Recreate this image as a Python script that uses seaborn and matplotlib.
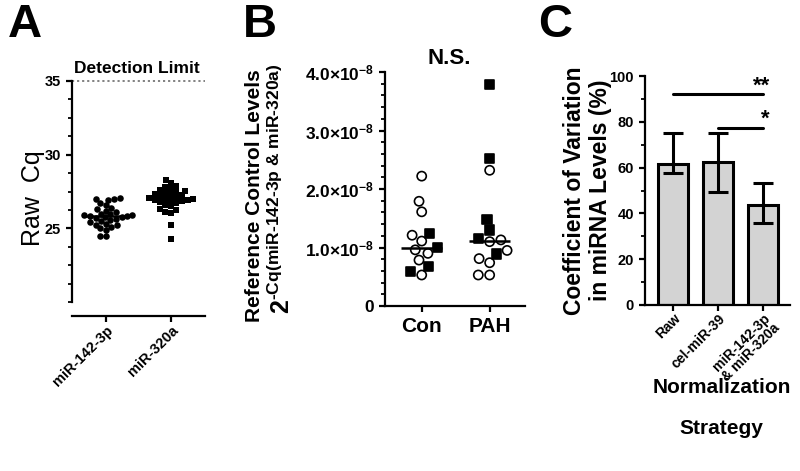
import matplotlib
matplotlib.use("Agg")
import matplotlib.pyplot as plt
from matplotlib.markers import MarkerStyle
from matplotlib.ticker import AutoMinorLocator, FuncFormatter
import numpy as np
import pandas as pd
import seaborn as sns

# panel A: raw Cq of the two reference miRNAs
mir_names = ["miR-142-3p", "miR-320a"]
cq_mir142 = [27.05, 27.0, 27.0, 26.95, 26.75, 26.6, 26.4, 26.3, 26.2, 26.1, 26.0,
             25.95, 25.9, 25.9, 25.85, 25.85, 25.8, 25.75, 25.7, 25.6, 25.55, 25.5,
             25.4, 25.3, 25.25, 25.2, 25.1, 25.0, 24.9, 24.5, 24.45]
cq_mir320 = [28.25, 28.1, 27.9, 27.8, 27.7, 27.6, 27.55, 27.5, 27.4, 27.35, 27.3,
             27.25, 27.2, 27.1, 27.05, 27.0, 27.0, 26.95, 26.9, 26.9, 26.85, 26.8,
             26.7, 26.6, 26.5, 26.3, 26.25, 26.1, 26.05, 25.2, 24.3]
detection_limit = 35

# panel B: reference control levels (x 1e-8)
groups = ["Con", "PAH"]
con_open = [2.22, 1.79, 1.61, 1.21, 1.11, 0.96, 0.90, 0.785, 0.53]
con_filled = [1.24, 0.995, 0.68, 0.585]
pah_open = [2.32, 1.13, 1.10, 0.95, 0.81, 0.74, 0.53, 0.53]
pah_filled = [3.79, 2.52, 1.48, 1.30, 1.15, 0.89]

# panel C: coefficient of variation
strategies = ["Raw", "cel-miR-39", "miR-142-3p\n& miR-320a"]
cv_mean = [61.4, 62.6, 43.7]
cv_low = [57.5, 49.5, 35.7]
cv_high = [75.0, 75.0, 53.1]
sig_pairs = [(0, 2), (1, 2)]
sig_labels = ["**", "*"]
sig_heights = [92, 77.5]

sns.set_theme(style="ticks")
plt.rcParams["font.family"] = ["Liberation Sans", "DejaVu Sans"]
plt.rcParams.update({
    "font.weight": "bold",
    "mathtext.fontset": "custom",
    "mathtext.rm": "Liberation Sans:bold",
    "mathtext.bf": "Liberation Sans:bold",
    "mathtext.it": "Liberation Sans:italic:bold",
    "mathtext.default": "rm",
    "axes.linewidth": 1.6,
    "axes.edgecolor": "black",
    "xtick.major.width": 1.6,
    "ytick.major.width": 1.6,
    "ytick.minor.width": 1.3,
    "xtick.major.size": 4.5,
    "ytick.major.size": 4.5,
    "ytick.minor.size": 3,
    "xtick.color": "black",
    "ytick.color": "black",
    "text.color": "black",
    "axes.labelcolor": "black",
})


def px_box(left, top, right, bottom, w=800, h=471):
    return [left / w, 1 - bottom / h, (right - left) / w, (bottom - top) / h]


def marker_path(code, scale=1.0):
    m = MarkerStyle(code)
    return m.get_path().transformed(m.get_transform().scale(scale))


fig = plt.figure(figsize=(8, 4.71), dpi=100)

# ---------------- A ----------------
ax_a = fig.add_axes(px_box(72, 81, 205, 302))
df_a = pd.DataFrame({
    "miRNA": [mir_names[0]] * len(cq_mir142) + [mir_names[1]] * len(cq_mir320),
    "Cq": cq_mir142 + cq_mir320,
})
# swarm laid out with slightly smaller markers so neighbours overlap a little
sns.swarmplot(data=df_a, x="miRNA", y="Cq", order=mir_names, color="black",
              size=4.1, ax=ax_a)
ax_a.collections[0].set_paths([marker_path("o", 1.15)])
ax_a.collections[1].set_paths([marker_path("s", 1.05)])
for i, name in enumerate(mir_names):
    med = df_a.loc[df_a["miRNA"] == name, "Cq"].median()
    ax_a.hlines(med, i - 0.36, i + 0.36, color="black", lw=1.8)
ax_a.axhline(detection_limit, color="#777777", lw=1.3, ls=(0, (1.2, 1.6)), clip_on=False)
ax_a.text(0.48, detection_limit + 0.35, "Detection Limit", ha="center", va="bottom",
          fontsize=12.5, fontweight="bold")
sns.despine(ax=ax_a)
ax_a.spines["bottom"].set_position(("outward", 10))
ax_a.set_xlim(-0.52, 1.52)
ax_a.set_ylim(20, 35)
ax_a.set_yticks([25, 30, 35])
ax_a.yaxis.set_minor_locator(AutoMinorLocator(4))
ax_a.tick_params(axis="y", labelsize=10.5)
ax_a.tick_params(axis="x", pad=1)
ax_a.set_xticks(range(len(mir_names)))
ax_a.set_xticklabels(mir_names, rotation=45, ha="right", rotation_mode="anchor",
                     fontsize=10.5)
ax_a.set_xlabel("")
ax_a.set_ylabel("Raw  Cq", fontsize=18, fontweight="normal")
ax_a.yaxis.set_label_coords(-0.2, 0.47)

# ---------------- B ----------------
ax_b = fig.add_axes(px_box(385, 72, 525, 306))
levels, grp_col, filled = [], [], []
for grp, opens, fills in [(groups[0], con_open, con_filled), (groups[1], pah_open, pah_filled)]:
    for v in opens:
        levels.append(v * 1e-8); grp_col.append(grp); filled.append(False)
    for v in fills:
        levels.append(v * 1e-8); grp_col.append(grp); filled.append(True)
df_b = pd.DataFrame({"group": grp_col, "level": levels, "filled": filled})
sns.swarmplot(data=df_b, x="group", y="level", order=groups, color="black", size=6.6,
              linewidth=1.2, edgecolor="black", ax=ax_b)
for coll, grp in zip(ax_b.collections, groups):
    flags = df_b.loc[df_b["group"] == grp, "filled"].tolist()
    coll.set_paths([marker_path("s") if f else marker_path("o") for f in flags])
    coll.set_facecolors(["black" if f else "white" for f in flags])
    coll.set_edgecolors("black")
for i, grp in enumerate(groups):
    med = df_b.loc[df_b["group"] == grp, "level"].median()
    ax_b.hlines(med, i - 0.3, i + 0.3, color="black", lw=1.8, zorder=5)
ax_b.set_xlim(-0.54, 1.52)
ax_b.set_ylim(0, 4e-8)
ax_b.set_yticks([0, 1e-8, 2e-8, 3e-8, 4e-8])
ax_b.yaxis.set_minor_locator(AutoMinorLocator(5))
ax_b.yaxis.set_major_formatter(FuncFormatter(
    lambda v, pos: "0" if v == 0 else r"$%.1f{\times}10^{-8}$" % (v / 1e-8)))
ax_b.tick_params(axis="y", labelsize=12.5)
ax_b.tick_params(axis="x", labelsize=15)
ax_b.set_xlabel("")
ax_b.set_ylabel("")
ax_b.text(-0.93, 0.47, "Reference Control Levels", transform=ax_b.transAxes,
          rotation=90, ha="center", va="center", fontsize=15, fontweight="bold")
ax_b.text(-0.74, 0.5, r"$2^{\text{-Cq(miR-142-3p & miR-320a)}}$", transform=ax_b.transAxes,
          rotation=90, ha="center", va="center", fontsize=18)
ax_b.text(0.4, 4.05e-8, "N.S.", ha="center", va="bottom", fontsize=16, fontweight="bold")
sns.despine(ax=ax_b)

# ---------------- C ----------------
ax_c = fig.add_axes(px_box(645, 76, 790, 305))
sns.barplot(x=strategies, y=cv_mean, order=strategies, color="#d3d3d3", saturation=1,
            edgecolor="black", linewidth=2.2, width=0.67, errorbar=None, ax=ax_c)
xs = np.arange(len(strategies))
yerr = [np.array(cv_mean) - np.array(cv_low), np.array(cv_high) - np.array(cv_mean)]
ax_c.errorbar(xs, cv_mean, yerr=yerr, fmt="none", ecolor="black", elinewidth=2.2,
              capsize=7, capthick=2.2, zorder=4)
for (i, j), lab, h in zip(sig_pairs, sig_labels, sig_heights):
    ax_c.plot([i, j], [h, h], color="black", lw=2.2)
    ax_c.text(j + 0.15, h - 1, lab, ha="right", va="bottom", fontsize=16, fontweight="bold")
sns.despine(ax=ax_c)
ax_c.set_xlim(-0.62, 2.6)
ax_c.set_ylim(0, 100)
ax_c.set_yticks(range(0, 101, 20))
ax_c.yaxis.set_minor_locator(AutoMinorLocator(2))
ax_c.tick_params(axis="y", labelsize=10.5)
ax_c.tick_params(axis="x", pad=0)
ax_c.set_xticks(xs)
ax_c.set_xticklabels(strategies, rotation=45, ha="right", rotation_mode="anchor",
                     fontsize=10, linespacing=0.95)
ax_c.set_ylabel("Coefficient of Variation\nin miRNA Levels (%)", fontsize=16.5,
                fontweight="bold", linespacing=1.15)
ax_c.yaxis.set_label_coords(-0.23, 0.5)
ax_c.set_xlabel("Normalization\nStrategy", fontsize=15, fontweight="bold", linespacing=2.45)
ax_c.xaxis.set_label_coords(0.53, -0.32)
ax_c.xaxis.label.set_va("top")

# panel letters
for x, letter in [(8, "A"), (243, "B"), (538, "C")]:
    fig.text(x / 800, 1 - 3 / 471, letter, ha="left", va="top", fontsize=34, fontweight="bold")

fig.savefig("out.png", dpi=100)
